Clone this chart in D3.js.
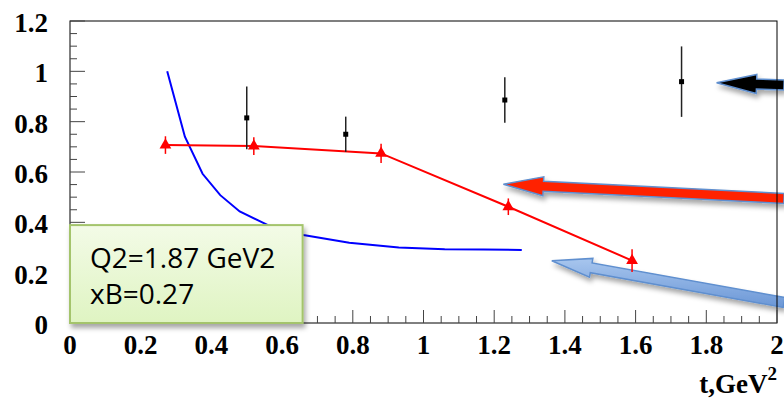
<!DOCTYPE html>
<html>
<head>
<meta charset="utf-8">
<script src="https://cdn.jsdelivr.net/npm/d3@7"></script>
<style>
  html, body { margin: 0; padding: 0; background: #fff; }
  svg { display: block; }
</style>
</head>
<body>
<svg id="chart" width="784" height="399"></svg>
<script>
// measured points (t in GeV^2)
const blackT = [0.5, 0.78, 1.23, 1.73];
const blackY = [0.815, 0.75, 0.886, 0.959];
const blackErr = [0.125, 0.07, 0.09, 0.14];

const redT = [0.27, 0.52, 0.88, 1.24, 1.59];
const redY = [0.707, 0.703, 0.674, 0.462, 0.248];
const redErr = [0.035, 0.035, 0.038, 0.033, 0.045];

// model curve
const blueT = [0.275, 0.325, 0.375, 0.425, 0.48, 0.56, 0.66, 0.79, 0.93, 1.06, 1.17, 1.278];
const blueY = [1.0, 0.74, 0.593, 0.508, 0.443, 0.389, 0.35, 0.319, 0.300, 0.293, 0.292, 0.290];

const xTickLabels = ['0', '0.2', '0.4', '0.6', '0.8', '1', '1.2', '1.4', '1.6', '1.8', '2'];
const yTickLabels = ['0', '0.2', '0.4', '0.6', '0.8', '1', '1.2'];

const boxLines = ['Q2=1.87 GeV2', 'xB=0.27'];

// annotation arrows: [tailT, tailY, tipT, tipY]
const arrowBlack = [2.02, 0.946, 1.829, 0.955];
const arrowRed = [2.02, 0.495, 1.226, 0.551];
const arrowBlue = [2.02, 0.0815, 1.363, 0.2475];

const svg = d3.select('#chart');
const x = d3.scaleLinear().domain([0, 2]).range([70, 777]);
const y = d3.scaleLinear().domain([0, 1.2]).range([323, 21]);

const defs = svg.append('defs');
const shadow = defs.append('filter').attr('id', 'shadow')
    .attr('x', '-20%').attr('y', '-50%').attr('width', '140%').attr('height', '200%');
shadow.append('feDropShadow')
    .attr('dx', 2).attr('dy', 4).attr('stdDeviation', 2.5)
    .attr('flood-color', '#000').attr('flood-opacity', 0.35);

const boxGrad = defs.append('linearGradient').attr('id', 'boxGrad')
    .attr('x1', 0).attr('y1', 0).attr('x2', 0).attr('y2', 1);
boxGrad.append('stop').attr('offset', '0%').attr('stop-color', '#f3fbe7');
boxGrad.append('stop').attr('offset', '100%').attr('stop-color', '#dff4c2');

const blueGrad = defs.append('linearGradient').attr('id', 'blueGrad')
    .attr('x1', 0).attr('y1', 0).attr('x2', 0).attr('y2', 1);
blueGrad.append('stop').attr('offset', '0%').attr('stop-color', '#a8c6ee');
blueGrad.append('stop').attr('offset', '100%').attr('stop-color', '#6b97d6');

// block arrows
function arrowPath(a) {
    const x0 = x(a[0]), y0 = y(a[1]), x1 = x(a[2]), y1 = y(a[3]);
    const len = Math.hypot(x1 - x0, y1 - y0);
    const ux = (x1 - x0) / len, uy = (y1 - y0) / len;
    const nx = -uy, ny = ux;
    const shaft = 5, head = 9.5, headLen = 40;
    const bx = x1 - ux * headLen, by = y1 - uy * headLen;
    const pts = [
        [x0 + nx * shaft, y0 + ny * shaft],
        [bx + nx * shaft, by + ny * shaft],
        [bx + nx * head, by + ny * head],
        [x1, y1],
        [bx - nx * head, by - ny * head],
        [bx - nx * shaft, by - ny * shaft],
        [x0 - nx * shaft, y0 - ny * shaft]
    ];
    return 'M' + pts.map(p => p[0].toFixed(1) + ',' + p[1].toFixed(1)).join('L') + 'Z';
}

const arrows = svg.append('g');
[[arrowBlack, '#000'], [arrowRed, '#ff2200'], [arrowBlue, 'url(#blueGrad)']].forEach(([a, fill]) => {
    arrows.append('path')
        .attr('d', arrowPath(a))
        .attr('fill', fill)
        .attr('stroke', '#5f8fcf')
        .attr('stroke-width', 1.5)
        .attr('stroke-linejoin', 'miter')
        .attr('filter', 'url(#shadow)');
});

// frame
svg.append('rect')
    .attr('x', x(0)).attr('y', y(1.2))
    .attr('width', x(2) - x(0)).attr('height', y(0) - y(1.2))
    .attr('fill', 'none').attr('stroke', '#000').attr('stroke-width', 1);

// ticks
const ticks = svg.append('g').attr('stroke', '#444').attr('stroke-width', 1);
d3.range(0, 2.0001, 0.05).forEach((t, i) => {
    const major = i % 4 === 0;
    ticks.append('line')
        .attr('x1', x(t)).attr('x2', x(t))
        .attr('y1', y(0)).attr('y2', y(0) - (major ? 13 : 7));
});
d3.range(0, 1.2001, 0.05).forEach((v, i) => {
    const major = i % 4 === 0;
    ticks.append('line')
        .attr('x1', x(0)).attr('x2', x(0) + (major ? 15 : 7))
        .attr('y1', y(v)).attr('y2', y(v));
});

const labelFont = '"Liberation Serif", "Times New Roman", serif';
svg.append('g').selectAll('text')
    .data(xTickLabels)
    .join('text')
    .attr('x', (d, i) => x(i * 0.2))
    .attr('y', 354)
    .attr('text-anchor', 'middle')
    .attr('font-family', labelFont)
    .attr('font-weight', 'bold')
    .attr('font-size', 27)
    .text(d => d);

svg.append('g').selectAll('text')
    .data(yTickLabels)
    .join('text')
    .attr('x', 48)
    .attr('y', (d, i) => y(i * 0.2) + 11)
    .attr('text-anchor', 'end')
    .attr('font-family', labelFont)
    .attr('font-weight', 'bold')
    .attr('font-size', 27)
    .text(d => d);

const xTitle = svg.append('text')
    .attr('x', 777).attr('y', 393)
    .attr('text-anchor', 'end')
    .attr('font-family', labelFont)
    .attr('font-weight', 'bold')
    .attr('font-size', 27);
xTitle.append('tspan').text('t,GeV');
xTitle.append('tspan').attr('dy', -13).attr('font-size', 19).text('2');

// model curve
const blueData = blueT.map((t, i) => [t, blueY[i]]);
svg.append('path')
    .datum(blueData)
    .attr('d', d3.line().x(d => x(d[0])).y(d => y(d[1])))
    .attr('fill', 'none')
    .attr('stroke', '#0000ff')
    .attr('stroke-width', 2);

// red series
const redData = redT.map((t, i) => ({ t: t, v: redY[i], e: redErr[i] }));
svg.append('path')
    .datum(redData)
    .attr('d', d3.line().x(d => x(d.t)).y(d => y(d.v)))
    .attr('fill', 'none')
    .attr('stroke', '#ff0000')
    .attr('stroke-width', 2);

svg.append('g').selectAll('line')
    .data(redData)
    .join('line')
    .attr('x1', d => x(d.t)).attr('x2', d => x(d.t))
    .attr('y1', d => y(d.v + d.e)).attr('y2', d => y(d.v - d.e))
    .attr('stroke', '#ff0000')
    .attr('stroke-width', 1.5);

svg.append('g').selectAll('path')
    .data(redData)
    .join('path')
    .attr('transform', d => `translate(${x(d.t)},${y(d.v)})`)
    .attr('d', d3.symbol().type(d3.symbolTriangle).size(60))
    .attr('fill', '#ff0000');

// black series
const blackData = blackT.map((t, i) => ({ t: t, v: blackY[i], e: blackErr[i] }));
svg.append('g').selectAll('line')
    .data(blackData)
    .join('line')
    .attr('x1', d => x(d.t)).attr('x2', d => x(d.t))
    .attr('y1', d => y(d.v + d.e)).attr('y2', d => y(d.v - d.e))
    .attr('stroke', '#222')
    .attr('stroke-width', 1.5);

svg.append('g').selectAll('rect')
    .data(blackData)
    .join('rect')
    .attr('x', d => x(d.t) - 2.5).attr('y', d => y(d.v) - 2.5)
    .attr('width', 5).attr('height', 5)
    .attr('fill', '#000');

// info box
svg.append('rect')
    .attr('x', x(0)).attr('y', y(0.389))
    .attr('width', x(0.658) - x(0)).attr('height', y(0) - y(0.389))
    .attr('fill', 'url(#boxGrad)')
    .attr('stroke', '#a4c46c')
    .attr('stroke-width', 2)
    .attr('filter', 'url(#shadow)');

svg.append('g').selectAll('text')
    .data(boxLines)
    .join('text')
    .attr('x', 90)
    .attr('y', (d, i) => 268 + i * 35.5)
    .attr('font-family', '"Open Sans", sans-serif')
    .attr('font-size', 28)
    .attr('fill', '#000')
    .text(d => d);
</script>
</body>
</html>
